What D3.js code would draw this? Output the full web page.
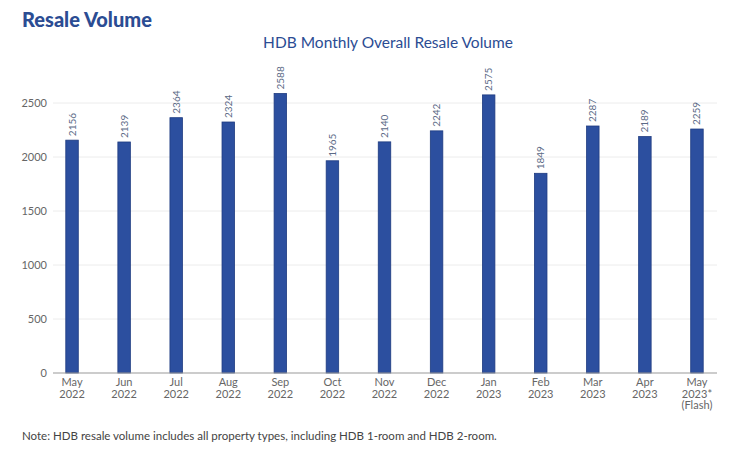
<!DOCTYPE html>
<html><head><meta charset="utf-8">
<script src="https://cdn.jsdelivr.net/npm/d3@7"></script>
<style>body{margin:0;background:#fff;}svg{display:block;font-family:Lato,"Open Sans",sans-serif;}</style>
</head><body>
<svg id="c" width="750" height="449"></svg>
<script>
const months = ["May","Jun","Jul","Aug","Sep","Oct","Nov","Dec","Jan","Feb","Mar","Apr","May"];
const years = ["2022","2022","2022","2022","2022","2022","2022","2022","2023","2023","2023","2023","2023*"];
const extra = ["","","","","","","","","","","","","(Flash)"];
const volumes = [2156,2139,2364,2324,2588,1965,2140,2242,2575,1849,2287,2189,2259];
const yTicks = [0,500,1000,1500,2000,2500];

const svg = d3.select("#c");
const y = d3.scaleLinear().domain([0,2500]).range([373,103]);
const idx = d3.range(volumes.length);
const x = d3.scaleBand().domain(idx).range([46,723]).paddingInner(0.76).paddingOuter(0.38);
const cx = i => x(i) + x.bandwidth()/2;

svg.append("text").attr("x",22).attr("y",27).attr("fill","#2b4c93")
  .attr("font-size",20).attr("font-weight",900).text("Resale Volume");
svg.append("text").attr("x",388).attr("y",48).attr("text-anchor","middle").attr("fill","#2b4c93")
  .attr("font-size",15.5).text("HDB Monthly Overall Resale Volume");

// gridlines
svg.append("g").selectAll("line").data(yTicks.filter(d=>d>0)).join("line")
  .attr("x1",53).attr("x2",717).attr("y1",d=>y(d)).attr("y2",d=>y(d))
  .attr("stroke","#ececec").attr("stroke-width",1);

// y axis labels
const ya = svg.append("g").attr("transform","translate(53,0)")
  .call(d3.axisLeft(y).tickValues(yTicks).tickFormat(d3.format("d")).tickSize(0).tickPadding(6));
ya.select(".domain").remove();
ya.selectAll("text").attr("fill","#666").attr("font-size",11).attr("font-family","Lato,'Open Sans',sans-serif");

// bars
svg.append("g").selectAll("rect").data(idx).join("rect")
  .attr("x",i=>x(i)).attr("width",x.bandwidth())
  .attr("y",i=>y(volumes[i])).attr("height",i=>y(0)-y(volumes[i]))
  .attr("fill","#2c4f9f").attr("stroke","#1e3b80").attr("stroke-width",0.8);

// value labels
svg.append("g").selectAll("text").data(idx).join("text")
  .attr("transform",i=>`translate(${cx(i)+3.5},${y(volumes[i])-4}) rotate(-90)`)
  .attr("fill","#5b6a86").attr("font-size",10).text(i=>volumes[i]);

// baseline
svg.append("line").attr("x1",53).attr("x2",717).attr("y1",y(0)).attr("y2",y(0))
  .attr("stroke","#999").attr("stroke-width",1.2);

// x labels (one text per line)
const xg = svg.append("g").attr("fill","#666").attr("font-size",11).attr("text-anchor","middle");
xg.selectAll("text.m").data(idx).join("text").attr("class","m")
  .attr("x",cx).attr("y",386).text(i=>months[i]);
xg.selectAll("text.yr").data(idx).join("text").attr("class","yr")
  .attr("x",cx).attr("y",397.5).text(i=>years[i]);
xg.selectAll("text.ex").data(idx.filter(i=>extra[i])).join("text").attr("class","ex")
  .attr("x",cx).attr("y",409).text(i=>extra[i]);

svg.append("text").attr("x",22).attr("y",440).attr("fill","#444").attr("font-size",11.5)
  .text("Note: HDB resale volume includes all property types, including HDB 1-room and HDB 2-room.");
</script>
</body></html>
